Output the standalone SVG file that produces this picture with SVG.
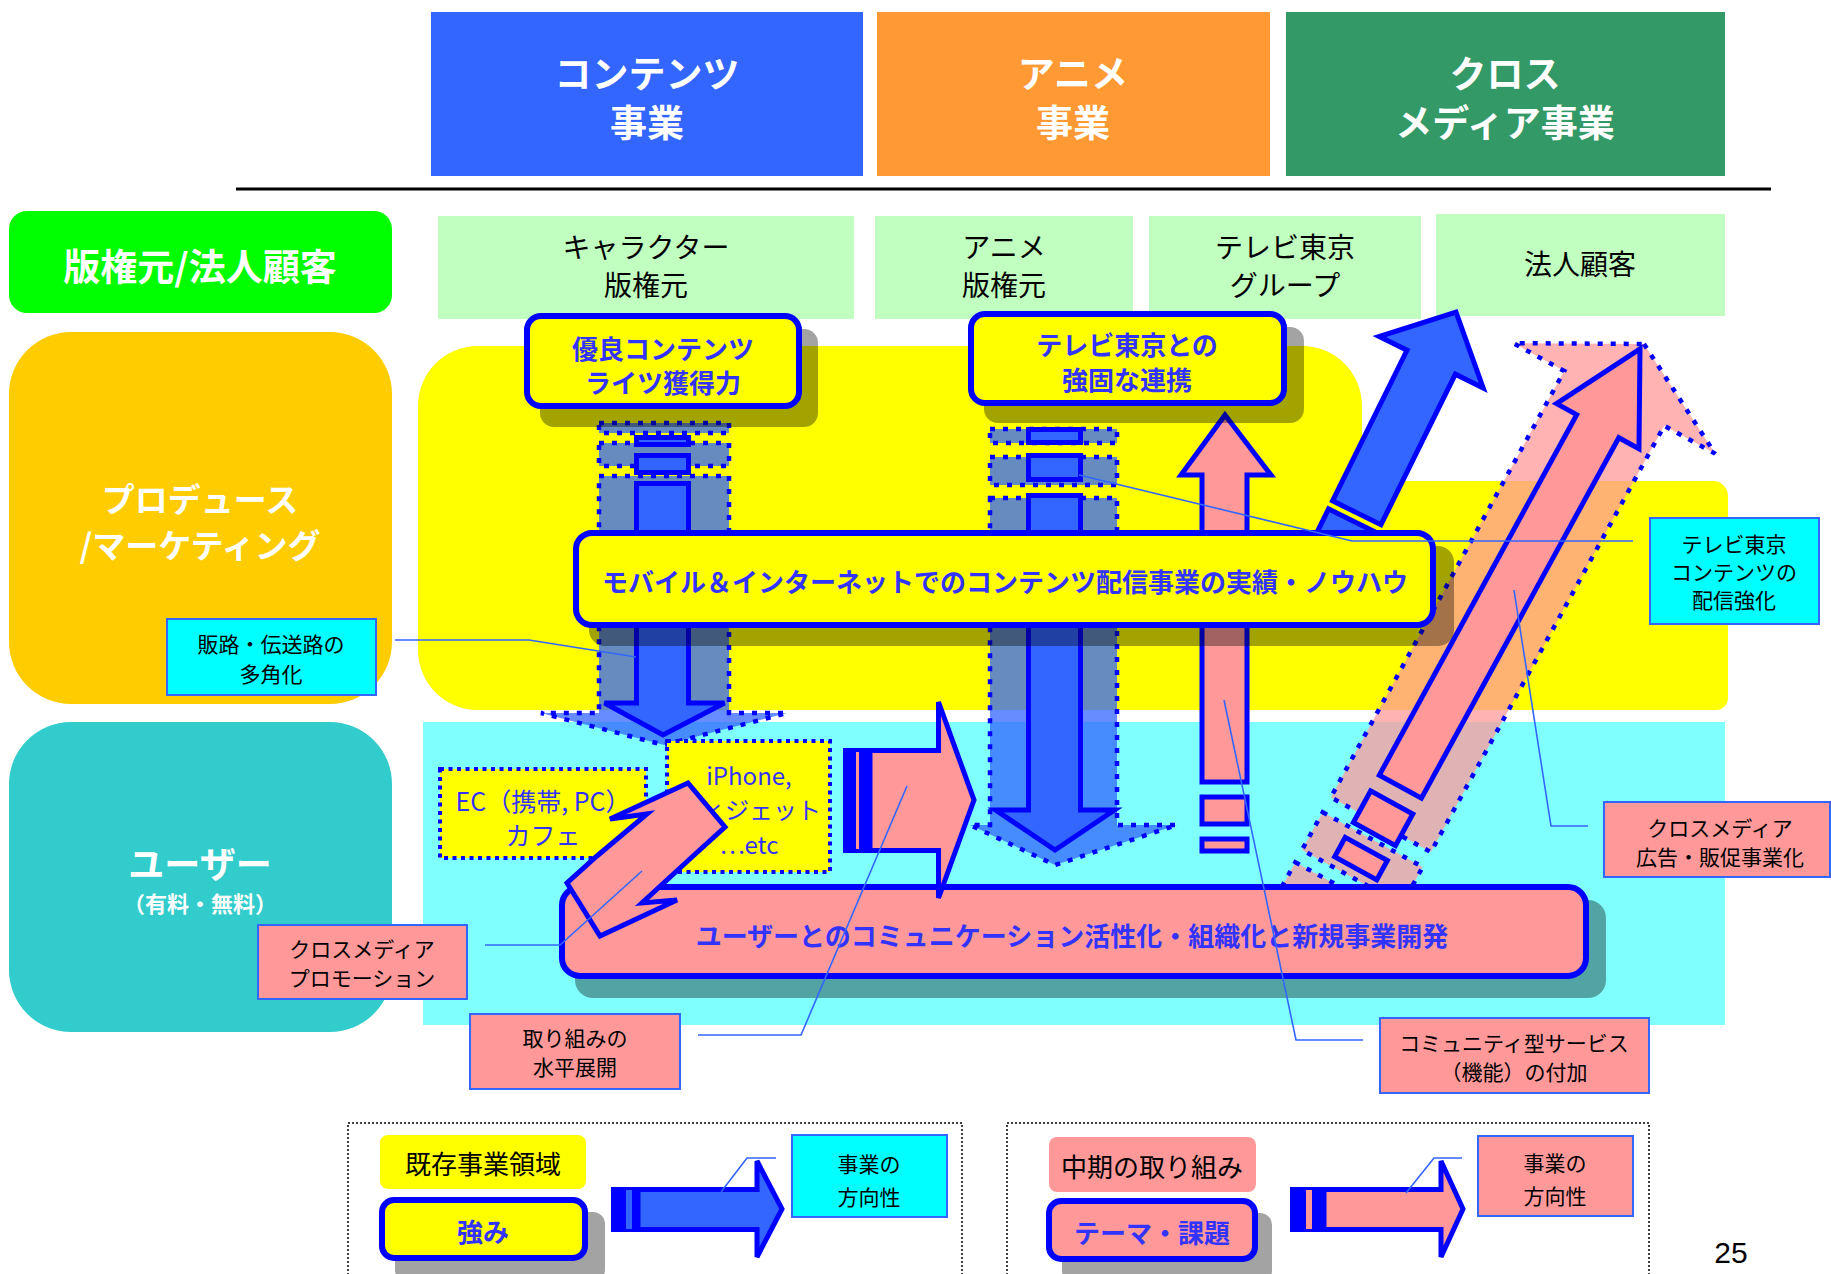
<svg xmlns="http://www.w3.org/2000/svg" width="1831" height="1274" viewBox="0 0 1831 1274">
<defs>
<style>
.t{font-family:"Noto Sans CJK JP","Noto Sans",sans-serif;text-anchor:middle;dominant-baseline:central}
.hw{fill:#fff;font-weight:700}
.bb{fill:#3333FF;font-weight:700;font-size:26px}
.k{fill:#000}
.c22{font-size:21px}
.sh{fill:#000;fill-opacity:.36}
.bx{stroke:#0000FF;stroke-width:6}
.ar{stroke:#0000FF;stroke-width:5}
.dot{stroke:#0000FF;stroke-width:4.5;stroke-dasharray:5 8}
.co{fill:none;stroke:#3366FF;stroke-width:1.6}
.cb{stroke:#3366FF;stroke-width:2}
.bl{fill:#3366FF}
.pk{fill:#FF9999}
.lg{fill:#C0FFC0}
</style>
</defs>
<rect width="1831" height="1274" fill="#fff"/>

<g id="headers">
<rect x="431" y="12" width="432" height="164" fill="#3366FF"/>
<text class="t hw" x="647" y="72" font-size="37">コンテンツ</text>
<text class="t hw" x="647" y="121" font-size="37">事業</text>
<rect x="877" y="12" width="393" height="164" fill="#FF9933"/>
<text class="t hw" x="1073" y="72" font-size="37">アニメ</text>
<text class="t hw" x="1073" y="121" font-size="37">事業</text>
<rect x="1286" y="12" width="439" height="164" fill="#339966"/>
<text class="t hw" x="1505" y="72" font-size="37">クロス</text>
<text class="t hw" x="1505" y="121" font-size="37">メディア事業</text>
<line x1="236" y1="189" x2="1771" y2="189" stroke="#000" stroke-width="3"/>
</g>

<g id="rows">
<rect x="9" y="211" width="383" height="102" rx="18" fill="#00FF00"/>
<text class="t hw" x="200" y="265" font-size="37">版権元/法人顧客</text>
<rect x="9" y="332" width="383" height="372" rx="62" fill="#FFCC00"/>
<text class="t hw" x="200" y="498" font-size="33">プロデュース</text>
<text class="t hw" x="200" y="544" font-size="33">/マーケティング</text>
<rect x="9" y="722" width="383" height="310" rx="62" fill="#33CCCC"/>
<text class="t hw" x="200" y="862" font-size="36">ユーザー</text>
<text class="t hw" x="200" y="902" font-size="22">（有料・無料）</text>
</g>

<g id="areas">
<path fill="#FFFF00" d="M478,346 H1302 A60,60 0 0 1 1362,406 V481 H1713 A15,15 0 0 1 1728,496 V698 A12,12 0 0 1 1716,710 H478 A60,60 0 0 1 418,650 V406 A60,60 0 0 1 478,346 Z"/>
<rect x="423" y="722" width="1302" height="303" fill="#80FFFF"/>
</g>

<g id="rights">
<rect class="lg" x="438" y="216" width="416" height="103"/>
<text class="t k" x="646" y="246" font-size="28">キャラクター</text>
<text class="t k" x="646" y="284" font-size="28">版権元</text>
<rect class="lg" x="875" y="216" width="258" height="103"/>
<text class="t k" x="1004" y="246" font-size="28">アニメ</text>
<text class="t k" x="1004" y="284" font-size="28">版権元</text>
<rect class="lg" x="1149" y="216" width="272" height="103"/>
<text class="t k" x="1285" y="246" font-size="28">テレビ東京</text>
<text class="t k" x="1285" y="284" font-size="28">グループ</text>
<rect class="lg" x="1436" y="214" width="289" height="102"/>
<text class="t k" x="1580" y="263" font-size="28">法人顧客</text>
</g>

<g id="connectors">
<g transform="translate(1644,344) rotate(28.7)" fill="#FF9999" fill-opacity=".75">
<polygon class="dot" points="0,0 115,62 57,62 57,548 -57,548 -57,62 -115,62"/>
<rect class="dot" x="-57" y="565" width="114" height="43"/>
<rect class="dot" x="-57" y="622" width="114" height="43"/>
</g>
<g transform="translate(1640,349) rotate(28.7)" class="pk">
<polygon class="ar" points="0,0 47,88 24,88 24,499 -24,499 -24,88 -47,88"/>
<rect class="ar" x="-24" y="517" width="48" height="36"/>
<rect class="ar" x="-24" y="570" width="48" height="22"/>
</g>
<g transform="translate(1456,312) rotate(26.3)" class="bl">
<polygon class="ar" points="0,0 58,56 27,56 27,224 -27,224 -27,56 -58,56"/>
<rect class="ar" x="-27" y="233" width="54" height="30"/>
</g>
<g fill="#3366FF" fill-opacity=".75">
<rect class="dot" x="599" y="423" width="130" height="10"/>
<rect class="dot" x="599" y="443" width="130" height="23"/>
<polygon class="dot" points="599,476 729,476 729,713 787,713 664,745 541,713 599,713"/>
<rect class="dot" x="990" y="429" width="127" height="14"/>
<rect class="dot" x="990" y="457" width="127" height="28"/>
<polygon class="dot" points="990,498 1117,498 1117,825 1177,825 1055,865 970,825 990,825"/>
</g>
<g class="bl">
<rect class="ar" x="636.5" y="437.5" width="52" height="7"/>
<rect class="ar" x="636.5" y="455.5" width="52" height="17"/>
<polygon class="ar" points="636.5,483.5 688.5,483.5 688.5,703 724.5,703 663,735 604.5,703 636.5,703"/>
<rect class="ar" x="1028.5" y="429.5" width="52" height="13"/>
<rect class="ar" x="1028.5" y="455.5" width="52" height="24"/>
<polygon class="ar" points="1028.5,495.5 1080.5,495.5 1080.5,810 1114.5,810 1055,850 995.5,810 1028.5,810"/>
</g>
<g class="pk">
<polygon class="ar" points="1225,415 1271,475 1247,475 1247,782 1202,782 1202,475 1181,475"/>
<rect class="ar" x="1202" y="797" width="45" height="27"/>
<rect class="ar" x="1202" y="839" width="45" height="12"/>
</g>
</g>

<g id="box-strength1">
<rect class="sh" x="540" y="329" width="278" height="98" rx="14"/>
<rect class="bx" x="527" y="316" width="272" height="90" rx="14" fill="#FFFF00"/>
<text class="t bb" x="663" y="347">優良コンテンツ</text>
<text class="t bb" x="663" y="381">ライツ獲得力</text>
</g>
<g id="box-strength2">
<rect class="sh" x="984" y="327" width="320" height="96" rx="14"/>
<rect class="bx" x="971" y="314" width="313" height="89" rx="14" fill="#FFFF00"/>
<text class="t bb" x="1127" y="343">テレビ東京との</text>
<text class="t bb" x="1127" y="378">強固な連携</text>
</g>
<g id="box-mobile">
<rect class="sh" x="589" y="546" width="865" height="100" rx="16"/>
<rect class="bx" x="576" y="533" width="857" height="92" rx="16" fill="#FFFF00"/>
<text class="t bb" x="1005" y="580" font-size="26.3">モバイル＆インターネットでのコンテンツ配信事業の実績・ノウハウ</text>
</g>
<g id="box-user">
<rect class="sh" x="575" y="900" width="1031" height="98" rx="18"/>
<rect class="bx" x="562" y="887" width="1024" height="89" rx="18" fill="#FF9999"/>
<text class="t bb" x="1072" y="934" font-size="27">ユーザーとのコミュニケーション活性化・組織化と新規事業開発</text>
</g>

<g id="channels">
<rect x="440" y="769" width="206" height="89" fill="#FFFF00" stroke="#0000FF" stroke-width="4" stroke-dasharray="4 4.5"/>
<text class="t" x="543" y="800" font-size="25" fill="#3333FF">EC（携帯, PC）</text>
<text class="t" x="543" y="834" font-size="25" fill="#3333FF">カフェ</text>
<rect x="667" y="741" width="163" height="131" fill="#FFFF00" stroke="#0000FF" stroke-width="4" stroke-dasharray="4 4.5"/>
<text class="t" x="749" y="774" font-size="24" fill="#3333FF">iPhone,</text>
<text class="t" x="749" y="808" font-size="24" fill="#3333FF">ウィジェット</text>
<text class="t" x="749" y="843" font-size="24" fill="#3333FF">…etc</text>
</g>

<g id="arrow-horizontal">
<rect x="843" y="748" width="25" height="105" fill="#0000FF"/>
<rect x="856" y="752" width="3" height="97" fill="#FF9999"/>
<polygon class="pk ar" points="870,750.5 938.5,750.5 938.5,702 974,800 938.5,898 938.5,850.5 870,850.5"/>
</g>

<g id="arrow-double">
<polygon class="pk ar" points="688,783 610,819 647,814 597,856 567,883 600,936 677,900 642,903 692,857 725,827"/>
</g>

<g id="callouts">
<polyline class="co" points="395,640 529,640 636,657"/>
<rect class="cb" x="167" y="619" width="209" height="76" fill="#00FFFF"/>
<text class="t k c22" x="271" y="643">販路・伝送路の</text>
<text class="t k c22" x="271" y="673">多角化</text>

<polyline class="co" points="1633,541 1352,541 1079,475"/>
<rect class="cb" x="1650" y="518" width="169" height="106" fill="#00FFFF"/>
<text class="t k c22" x="1734" y="543">テレビ東京</text>
<text class="t k c22" x="1734" y="571">コンテンツの</text>
<text class="t k c22" x="1734" y="599">配信強化</text>

<polyline class="co" points="1588,826 1551,826 1514,590"/>
<rect class="cb" x="1604" y="802" width="226" height="75" fill="#FF9999"/>
<text class="t k c22" x="1720" y="827">クロスメディア</text>
<text class="t k c22" x="1720" y="856">広告・販促事業化</text>

<polyline class="co" points="1363,1040 1296,1040 1224,700"/>
<rect class="cb" x="1380" y="1018" width="269" height="75" fill="#FF9999"/>
<text class="t k c22" x="1514" y="1042">コミュニティ型サービス</text>
<text class="t k c22" x="1514" y="1071">（機能）の付加</text>

<polyline class="co" points="698,1035 801,1035 907,786"/>
<rect class="cb" x="470" y="1014" width="210" height="75" fill="#FF9999"/>
<text class="t k c22" x="575" y="1037">取り組みの</text>
<text class="t k c22" x="575" y="1066">水平展開</text>

<polyline class="co" points="485,945 560,945 642,871"/>
<rect class="cb" x="258" y="925" width="209" height="74" fill="#FF9999"/>
<text class="t k c22" x="362" y="948">クロスメディア</text>
<text class="t k c22" x="362" y="977">プロモーション</text>
</g>

<g id="legend-left">
<rect x="348" y="1123" width="614" height="170" fill="none" stroke="#000" stroke-width="1.5" stroke-dasharray="2 2"/>
<rect x="380" y="1135" width="206" height="54" rx="8" fill="#FFFF00"/>
<text class="t k" x="483" y="1162" font-size="26">既存事業領域</text>
<rect class="sh" x="395" y="1212" width="210" height="70" rx="12"/>
<rect class="bx" x="382" y="1200" width="203" height="58" rx="12" fill="#FFFF00"/>
<text class="t bb" x="483" y="1230" font-size="27">強み</text>
<rect x="611" y="1187" width="26" height="45" fill="#0000FF"/>
<rect x="626" y="1190" width="6" height="39" fill="#3366FF"/>
<polygon class="bl ar" points="638,1189.5 757,1189.5 757,1161 782,1209 757,1257 757,1229.5 638,1229.5"/>
<polyline class="co" points="776,1158 747,1158 721,1192"/>
<rect class="cb" x="792" y="1135" width="155" height="82" fill="#00FFFF"/>
<text class="t k c22" x="869" y="1163">事業の</text>
<text class="t k c22" x="869" y="1196">方向性</text>
</g>

<g id="legend-right">
<rect x="1007" y="1123" width="642" height="170" fill="none" stroke="#000" stroke-width="1.5" stroke-dasharray="2 2"/>
<rect x="1049" y="1137" width="207" height="55" rx="8" fill="#FF9999"/>
<text class="t k" x="1152" y="1165" font-size="26">中期の取り組み</text>
<rect class="sh" x="1062" y="1213" width="210" height="70" rx="12"/>
<rect class="bx" x="1049" y="1201" width="206" height="58" rx="12" fill="#FF9999"/>
<text class="t bb" x="1152" y="1231">テーマ・課題</text>
<rect x="1290" y="1187" width="33" height="45" fill="#0000FF"/>
<rect x="1306" y="1190" width="6" height="39" fill="#FF9999"/>
<polygon class="pk ar" points="1324,1189.5 1441,1189.5 1441,1161 1463,1209 1441,1257 1441,1229.5 1324,1229.5"/>
<polyline class="co" points="1462,1158 1434,1158 1406,1193"/>
<rect class="cb" x="1478" y="1136" width="155" height="80" fill="#FF9999"/>
<text class="t k c22" x="1555" y="1162">事業の</text>
<text class="t k c22" x="1555" y="1195">方向性</text>
</g>

<text x="1731" y="1263" font-family="Liberation Sans, Arial, sans-serif" font-size="30" text-anchor="middle" fill="#000">25</text>
</svg>
